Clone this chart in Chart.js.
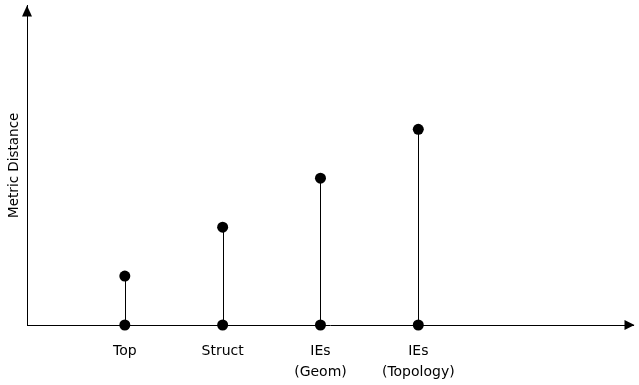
<!DOCTYPE html>
<html><head><meta charset="utf-8">
<script src="https://cdn.jsdelivr.net/npm/chart.js@4"></script>
<style>html,body{margin:0;padding:0;background:#fff}#w{width:639px;height:385px}</style>
</head><body><div id="w"><canvas id="c"></canvas></div>
<script>
const categories = [["Top"], ["Struct"], ["IEs", "(Geom)"], ["IEs", "(Topology)"]];
const positions = [1, 2, 3, 4];
const values = [1, 2, 3, 4];
const yTitle = "Metric Distance";

const topPts = positions.map((p, i) => ({x: p, y: values[i]}));
const basePts = positions.map(p => ({x: p, y: 0}));

const stemPlugin = {
  id: 'stems',
  beforeDatasetsDraw(chart) {
    const {ctx, scales: {x, y}} = chart;
    ctx.save();
    ctx.strokeStyle = '#000';
    ctx.lineWidth = 1;
    positions.forEach((p, i) => {
      const px = Math.round(x.getPixelForValue(p)) + 0.5;
      ctx.beginPath();
      ctx.moveTo(px, y.getPixelForValue(0));
      ctx.lineTo(px, y.getPixelForValue(values[i]));
      ctx.stroke();
    });
    ctx.restore();
  }
};
const arrowPlugin = {
  id: 'arrows',
  afterDraw(chart) {
    const {ctx, chartArea: a} = chart;
    ctx.save();
    ctx.fillStyle = '#000';
    ctx.beginPath();
    ctx.moveTo(a.right + 1, a.bottom);
    ctx.lineTo(a.right - 9, a.bottom - 5);
    ctx.lineTo(a.right - 9, a.bottom + 5);
    ctx.closePath(); ctx.fill();
    ctx.beginPath();
    ctx.moveTo(a.left, a.top);
    ctx.lineTo(a.left - 5, a.top + 11);
    ctx.lineTo(a.left + 5, a.top + 11);
    ctx.closePath(); ctx.fill();
    ctx.restore();
  }
};

new Chart(document.getElementById('c'), {
  type: 'scatter',
  data: {
    datasets: [
      {data: topPts, clip: false, pointRadius: 5.5, pointHoverRadius: 5.5, backgroundColor: '#000', borderColor: '#000', borderWidth: 0},
      {data: basePts, clip: false, pointRadius: 5.5, pointHoverRadius: 5.5, backgroundColor: '#000', borderColor: '#000', borderWidth: 0}
    ]
  },
  options: {
    responsive: true, maintainAspectRatio: false, animation: false,
    layout: {padding: {top: 5, right: 2, left: 0, bottom: 0}},
    plugins: {legend: {display: false}, tooltip: {enabled: false}},
    scales: {
      x: {
        type: 'linear', min: 0, max: 6.2,
        grid: {display: false, drawTicks: false},
        border: {display: true, color: '#000', width: 1},
        afterBuildTicks: s => { s.ticks = positions.map(v => ({value: v})); },
        afterFit: s => { s.height = 60; },
        ticks: {
          padding: 16, color: '#000', maxRotation: 0, autoSkip: false,
          font: {family: 'DejaVu Sans', size: 14, lineHeight: 1.5},
          callback: (v) => { const i = positions.indexOf(v); return i >= 0 ? categories[i] : ''; }
        }
      },
      y: {
        type: 'linear', min: 0, max: 6.53,
        grid: {display: false, drawTicks: false},
        border: {display: true, color: '#000', width: 1},
        ticks: {display: false},
        afterFit: s => { s.width = 27; },
        title: {display: true, text: yTitle, color: '#000', font: {family: 'DejaVu Sans', size: 13.5}, padding: {top: 6, bottom: 0}}
      }
    }
  },
  plugins: [stemPlugin, arrowPlugin]
});
</script></body></html>
